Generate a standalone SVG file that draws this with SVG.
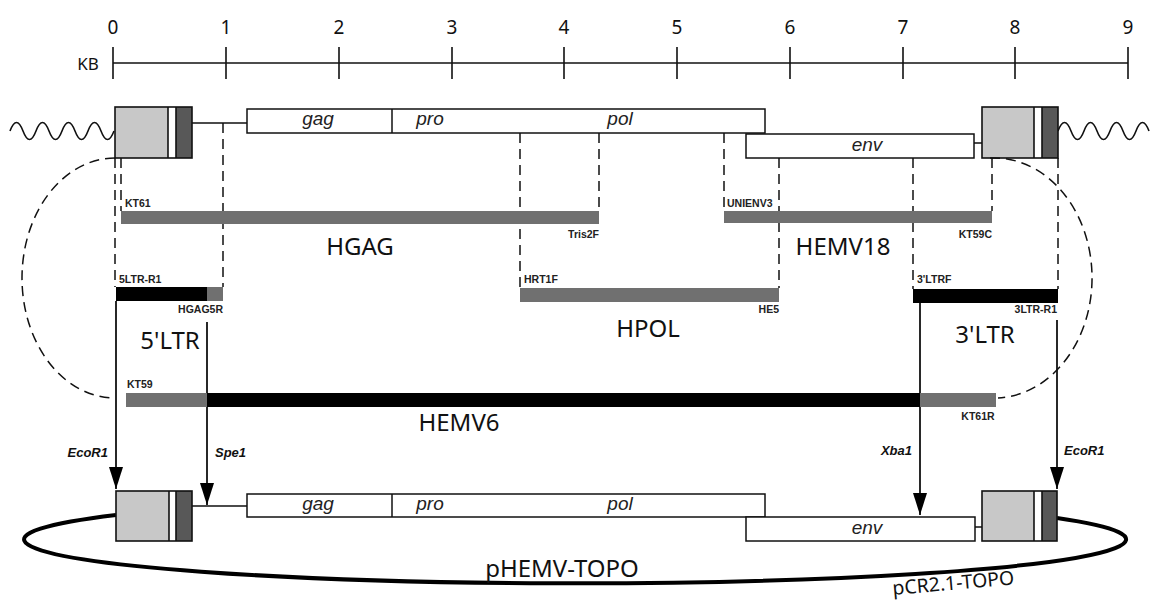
<svg xmlns="http://www.w3.org/2000/svg" width="1151" height="600" viewBox="0 0 1151 600">
<style>
.ax{stroke:#111;stroke-width:1.6;fill:none}
.num{font-family:"Noto Sans","DejaVu Sans",sans-serif;font-size:19px;fill:#111;text-anchor:middle}
.big{font-family:"Noto Sans","DejaVu Sans",sans-serif;font-size:24px;fill:#111;text-anchor:middle}
.sm{font-family:"Liberation Sans",Arial,sans-serif;font-size:10.5px;font-weight:bold;fill:#222}
.gene{font-family:"Liberation Sans",Arial,sans-serif;font-size:19px;font-style:italic;fill:#222;text-anchor:middle}
.enz{font-family:"Liberation Sans",Arial,sans-serif;font-size:13px;font-style:italic;font-weight:bold;fill:#111}
.box{fill:#fff;stroke:#111;stroke-width:1.5}
.lt{fill:#c8c8c8;stroke:none}
.dk{fill:#585858;stroke:none}
.frame{fill:none;stroke:#111;stroke-width:1.6}
.dash{stroke:#111;stroke-width:1.5;stroke-dasharray:10 6;fill:none}
.solid{stroke:#111;stroke-width:1.8;fill:none}
.gbar{fill:#707070}
.bbar{fill:#000}
.wave{stroke:#111;stroke-width:1.6;fill:none}
</style>
<defs>
<marker id="arr" viewBox="0 0 22 14" refX="22" refY="7" markerWidth="22" markerHeight="14" markerUnits="userSpaceOnUse" orient="auto">
<path d="M0,0 L22,7 L0,14 z" fill="#000"/>
</marker>
</defs>

<g id="scale">
<path class="ax" d="M113,63 H1128"/>
<path class="ax" d="M113,47 V79 M226,47 V79 M339,47 V79 M452,47 V79 M564,47 V79 M677,47 V79 M790,47 V79 M903,47 V79 M1015,47 V79 M1128,47 V79"/>
<text class="num" x="113" y="34">0</text>
<text class="num" x="226" y="34">1</text>
<text class="num" x="339" y="34">2</text>
<text class="num" x="452" y="34">3</text>
<text class="num" x="564" y="34">4</text>
<text class="num" x="677" y="34">5</text>
<text class="num" x="790" y="34">6</text>
<text class="num" x="903" y="34">7</text>
<text class="num" x="1015" y="34">8</text>
<text class="num" x="1128" y="34">9</text>
<text class="num" x="88" y="70" style="font-size:17px">KB</text>
</g>

<g id="genome-top">
<path class="wave" d="M10,131 q6.5,-17 13,0 t13,0 t13,0 t13,0 t13,0 t13,0 t13,0 t13,0"/>
<path class="wave" d="M1058,131 q6.5,-17 13,0 t13,0 t13,0 t13,0 t13,0 t13,0 t13,0"/>
<path class="solid" d="M192,123 H247 M974,143 H982" style="stroke-width:1.5"/>
<g id="ltr5-top">
<rect class="lt" x="115" y="107" width="53" height="51"/>
<rect x="168" y="107" width="8" height="51" fill="#fff"/>
<rect class="dk" x="176" y="107" width="16" height="51"/>
<path class="frame" d="M168,107 V158 M176,107 V158"/>
<rect class="frame" x="115" y="107" width="77" height="51"/>
</g>
<g id="gagpol-top">
<rect class="box" x="247" y="109" width="518" height="24"/>
<path class="frame" d="M392,109 V133" style="stroke-width:1.5"/>
<text class="gene" x="318" y="125">gag</text>
<text class="gene" x="430" y="125">pro</text>
<text class="gene" x="620" y="125">pol</text>
</g>
<g id="env-top">
<rect class="box" x="746" y="134" width="228" height="24"/>
<text class="gene" x="867" y="151">env</text>
</g>
<g id="ltr3-top">
<rect class="lt" x="982" y="107" width="52" height="51"/>
<rect x="1034" y="107" width="8" height="51" fill="#fff"/>
<rect class="dk" x="1042" y="107" width="16" height="51"/>
<path class="frame" d="M1034,107 V158 M1042,107 V158"/>
<rect class="frame" x="982" y="107" width="76" height="51"/>
</g>
</g>

<g id="connectors">
<path class="dash" d="M115,158 V287 M121,158 V211 M223,123 V287 M520,133 V288 M599,133 V211 M724,133 V211 M779,158 V288 M913,158 V289 M992,158 V211 M1058,158 V289"/>
<path class="dash" d="M115,158 A93,120 0 0 0 115,398"/>
<path class="dash" d="M990,158 A98,120 0 0 1 998,398"/>
<path class="solid" d="M116,301 V489" marker-end="url(#arr)"/>
<path class="solid" d="M207,322 V505" marker-end="url(#arr)"/>
<path class="solid" d="M920,303 V515" marker-end="url(#arr)"/>
<path class="solid" d="M1057,320 V489" marker-end="url(#arr)"/>
</g>

<g id="HGAG">
<rect class="gbar" x="121" y="211" width="478" height="13"/>
<text class="sm" x="125" y="207">KT61</text>
<text class="sm" x="599" y="238" text-anchor="end">Tris2F</text>
<text class="big" x="360" y="255">HGAG</text>
</g>
<g id="HEMV18">
<rect class="gbar" x="724" y="211" width="268" height="12"/>
<text class="sm" x="727" y="207">UNIENV3</text>
<text class="sm" x="992" y="238" text-anchor="end">KT59C</text>
<text class="big" x="843" y="255">HEMV18</text>
</g>
<g id="LTR5">
<rect class="bbar" x="116" y="287" width="91" height="14"/>
<rect class="gbar" x="207" y="287" width="16" height="14"/>
<text class="sm" x="119" y="283">5LTR-R1</text>
<text class="sm" x="223" y="313" text-anchor="end">HGAG5R</text>
<text class="big" x="170" y="349">5'LTR</text>
</g>
<g id="HPOL">
<rect class="gbar" x="520" y="288" width="259" height="14"/>
<text class="sm" x="524" y="283">HRT1F</text>
<text class="sm" x="779" y="313" text-anchor="end">HE5</text>
<text class="big" x="648" y="337">HPOL</text>
</g>
<g id="LTR3">
<rect class="bbar" x="913" y="289" width="145" height="14"/>
<text class="sm" x="917" y="283">3'LTRF</text>
<text class="sm" x="1057" y="313" text-anchor="end">3LTR-R1</text>
<text class="big" x="985" y="343">3'LTR</text>
</g>
<g id="HEMV6">
<rect class="gbar" x="126" y="393" width="81" height="14"/>
<rect class="bbar" x="207" y="393" width="713" height="14"/>
<rect class="gbar" x="920" y="393" width="76" height="14"/>
<text class="sm" x="127" y="388">KT59</text>
<text class="sm" x="978" y="420" text-anchor="middle">KT61R</text>
<text class="big" x="459" y="431">HEMV6</text>
</g>

<g id="enzymes">
<text class="enz" x="108" y="457" text-anchor="end">EcoR1</text>
<text class="enz" x="215" y="457">Spe1</text>
<text class="enz" x="912" y="455" text-anchor="end">Xba1</text>
<text class="enz" x="1064" y="455">EcoR1</text>
</g>

<g id="plasmid">
<path d="M116,515 A551,44 0 1 0 1057,518" fill="none" stroke="#000" stroke-width="4"/>
<path class="solid" d="M192,506 H247 M975,527 H982" style="stroke-width:1.5"/>
<g id="ltr5-bot">
<rect class="lt" x="116" y="491" width="53" height="50"/>
<rect x="169" y="491" width="7" height="50" fill="#fff"/>
<rect class="dk" x="176" y="491" width="16" height="50"/>
<path class="frame" d="M169,491 V541 M176,491 V541"/>
<rect class="frame" x="116" y="491" width="76" height="50"/>
</g>
<g id="gagpol-bot">
<rect class="box" x="247" y="494" width="518" height="23"/>
<path class="frame" d="M392,494 V517" style="stroke-width:1.5"/>
<text class="gene" x="318" y="510">gag</text>
<text class="gene" x="430" y="510">pro</text>
<text class="gene" x="620" y="510">pol</text>
</g>
<g id="env-bot">
<rect class="box" x="746" y="517" width="229" height="24"/>
<text class="gene" x="867" y="534">env</text>
</g>
<g id="ltr3-bot">
<rect class="lt" x="982" y="491" width="52" height="50"/>
<rect x="1034" y="491" width="8" height="50" fill="#fff"/>
<rect class="dk" x="1042" y="491" width="15" height="50"/>
<path class="frame" d="M1034,491 V541 M1042,491 V541"/>
<rect class="frame" x="982" y="491" width="75" height="50"/>
</g>
<text class="big" x="562" y="577">pHEMV-TOPO</text>
<text class="big" x="0" y="0" style="font-size:19.5px;text-anchor:start" transform="translate(893,595) rotate(-5)">pCR2.1-TOPO</text>
</g>
</svg>
